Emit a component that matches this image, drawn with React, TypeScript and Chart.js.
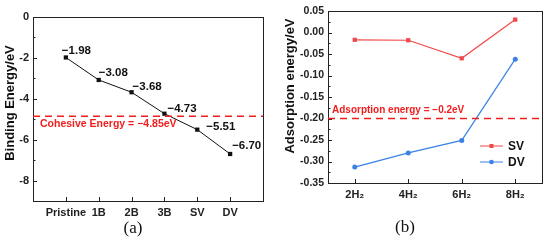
import React, { useEffect, useRef } from 'react';
import { Chart, registerables } from 'chart.js';
Chart.register(...registerables);

// ---------- data: panel (a) ----------
const bindingCategories = ['Pristine', '1B', '2B', '3B', 'SV', 'DV'];
const bindingValues = [-1.98, -3.08, -3.68, -4.73, -5.51, -6.7];
const bindingYTicks = [-8, -6, -4, -2, 0];
const bindingYMinor = [-9, -7, -5, -3, -1];
const cohesiveEnergy = -4.85;
const cohesiveLabel = 'Cohesive Energy = \u22124.85eV';

// ---------- data: panel (b) ----------
const h2Categories = ['2H\u2082', '4H\u2082', '6H\u2082', '8H\u2082'];
const svValues = [-0.017, -0.018, -0.06, 0.03];
const dvValues = [-0.313, -0.28, -0.251, -0.062];
const adsorptionYTicks = [-0.35, -0.3, -0.25, -0.2, -0.15, -0.1, -0.05, 0, 0.05];
const adsorptionYMinor = [-0.325, -0.275, -0.225, -0.175, -0.125, -0.075, -0.025, 0.025];
const adsorptionThreshold = -0.2;
const adsorptionLabel = 'Adsorption energy = \u22120.2eV';

const FONT = "'Liberation Sans', Arial, sans-serif";
const AXIS = '#222';
const RED_REF = '#f21d1d';
const SV_COLOR = '#f24848';
const DV_COLOR = '#3a82e6';

const fmtMinus = (v: number) => (v < 0 ? '\u2212' : '') + Math.abs(v).toFixed(2);

function makeDecorPlugin(cfg: any) {
  return {
    id: 'decor' + cfg.key,
    afterDraw(chart: any) {
      const ctx = chart.ctx;
      const { left, right, top, bottom } = chart.chartArea;
      const xs = chart.scales.x;
      const ys = chart.scales.y;
      ctx.save();
      ctx.strokeStyle = AXIS;
      ctx.lineWidth = 1;
      ctx.strokeRect(Math.round(left) + 0.5, Math.round(top) + 0.5, Math.round(right - left), Math.round(bottom - top));
      ctx.beginPath();
      xs.ticks.forEach((t: any, i: number) => {
        const x = Math.round(xs.getPixelForTick(i)) + 0.5;
        ctx.moveTo(x, bottom);
        ctx.lineTo(x, bottom - 4);
      });
      cfg.yMajor.forEach((v: number) => {
        const y = Math.round(ys.getPixelForValue(v)) + 0.5;
        ctx.moveTo(left, y);
        ctx.lineTo(left + 4, y);
      });
      cfg.yMinor.forEach((v: number) => {
        const y = Math.round(ys.getPixelForValue(v)) + 0.5;
        ctx.moveTo(left, y);
        ctx.lineTo(left + 2.5, y);
      });
      ctx.stroke();
      const ry = ys.getPixelForValue(cfg.refValue);
      ctx.strokeStyle = RED_REF;
      ctx.lineWidth = 1.5;
      ctx.setLineDash([7, 5]);
      ctx.beginPath();
      ctx.moveTo(left, ry);
      ctx.lineTo(right, ry);
      ctx.stroke();
      ctx.setLineDash([]);
      ctx.fillStyle = RED_REF;
      ctx.font = 'bold ' + cfg.refFont + 'px ' + FONT;
      ctx.textAlign = 'left';
      ctx.textBaseline = 'middle';
      ctx.fillText(cfg.refLabel, left + cfg.refDx, ry + cfg.refDy);
      if (cfg.pointLabels) {
        const meta = chart.getDatasetMeta(0);
        ctx.fillStyle = '#111';
        ctx.font = 'bold 11.5px ' + FONT;
        meta.data.forEach((p: any, i: number) => {
          const [dx, dy] = cfg.pointLabels[i];
          const v = chart.data.datasets[0].data[i].y;
          ctx.fillText(fmtMinus(v), p.x + dx, p.y + dy);
        });
      }
      if (cfg.legend) {
        const { x0, x1, y0, gap } = cfg.legend;
        chart.data.datasets.forEach((ds: any, i: number) => {
          const y = y0 + i * gap;
          ctx.strokeStyle = ds.borderColor;
          ctx.fillStyle = ds.borderColor;
          ctx.lineWidth = 1;
          ctx.beginPath();
          ctx.moveTo(x0, y);
          ctx.lineTo(x1, y);
          ctx.stroke();
          const mx = (x0 + x1) / 2;
          if (ds.pointStyle === 'rect') {
            ctx.fillRect(mx - 2, y - 2, 4, 4);
          } else {
            ctx.beginPath();
            ctx.arc(mx, y, 2.3, 0, Math.PI * 2);
            ctx.fill();
          }
          ctx.fillStyle = '#111';
          ctx.font = 'bold 12px ' + FONT;
          ctx.textAlign = 'left';
          ctx.fillText(ds.label, x1 + 5, y + 0.5);
        });
      }
      ctx.save();
      ctx.translate(cfg.titleX, cfg.titleY);
      ctx.rotate(-Math.PI / 2);
      ctx.fillStyle = '#111';
      ctx.font = 'bold 13px ' + FONT;
      ctx.textAlign = 'center';
      ctx.textBaseline = 'middle';
      ctx.fillText(cfg.title, 0, 0);
      ctx.restore();
      ctx.restore();
    },
  };
}

const tickFont = { family: FONT, size: 11, weight: 'bold' as const };

function PanelA() {
  const ref = useRef<HTMLCanvasElement>(null);
  useEffect(() => {
    const chart = new Chart(ref.current!, {
      type: 'line',
      data: {
        datasets: [
          {
            data: bindingValues.map((v, i) => ({ x: i + 1, y: v })),
            borderColor: '#111',
            backgroundColor: '#111',
            borderWidth: 1,
            pointStyle: 'rect',
            pointRadius: 3,
            pointBorderWidth: 0,
          },
        ],
      },
      options: {
        responsive: false,
        animation: false,
        layout: { padding: { top: 17, right: 12, left: 0, bottom: 0 } },
        plugins: { legend: { display: false }, tooltip: { enabled: false } },
        scales: {
          x: {
            type: 'linear',
            min: 0,
            max: 7,
            afterBuildTicks: (s: any) => {
              s.ticks = bindingCategories.map((_, i) => ({ value: i + 1 }));
            },
            afterFit: (s: any) => {
              s.height = 40;
            },
            ticks: {
              callback: (v: any) => bindingCategories[Number(v) - 1] ?? '',
              font: tickFont,
              color: AXIS,
              padding: 5,
              autoSkip: false,
              maxRotation: 0,
            },
            grid: { display: false, drawTicks: false },
            border: { display: false },
          },
          y: {
            min: -9,
            max: 0,
            afterBuildTicks: (s: any) => {
              s.ticks = bindingYTicks.map((v) => ({ value: v }));
            },
            afterFit: (s: any) => {
              s.width = 33;
            },
            ticks: {
              callback: (v: any) => String(v),
              font: tickFont,
              color: AXIS,
              padding: 4,
              autoSkip: false,
            },
            grid: { display: false, drawTicks: false },
            border: { display: false },
          },
        },
      } as any,
      plugins: [
        makeDecorPlugin({
          key: 'a',
          yMajor: bindingYTicks,
          yMinor: bindingYMinor,
          refValue: cohesiveEnergy,
          refLabel: cohesiveLabel,
          refFont: 10.5,
          refDx: 7,
          refDy: 8,
          pointLabels: [
            [-4, -7],
            [0, -7],
            [1, -5],
            [3, -5],
            [9, -3],
            [2, -8],
          ],
          title: 'Binding Energy/eV',
          titleX: 10,
          titleY: 103,
        }),
      ],
    });
    return () => chart.destroy();
  }, []);
  return <canvas ref={ref} width={275} height={241} style={{ position: 'absolute', left: 0, top: 0 }} />;
}

function PanelB() {
  const ref = useRef<HTMLCanvasElement>(null);
  useEffect(() => {
    const chart = new Chart(ref.current!, {
      type: 'line',
      data: {
        labels: h2Categories,
        datasets: [
          {
            label: 'SV',
            data: svValues,
            borderColor: SV_COLOR,
            backgroundColor: SV_COLOR,
            borderWidth: 1.2,
            pointStyle: 'rect',
            pointRadius: 3,
            pointBorderWidth: 0,
          },
          {
            label: 'DV',
            data: dvValues,
            borderColor: DV_COLOR,
            backgroundColor: DV_COLOR,
            borderWidth: 1.2,
            pointStyle: 'circle',
            pointRadius: 2.5,
            pointBorderWidth: 0,
          },
        ],
      },
      options: {
        responsive: false,
        animation: false,
        layout: { padding: { top: 11, right: 8, left: 0, bottom: 0 } },
        plugins: { legend: { display: false }, tooltip: { enabled: false } },
        scales: {
          x: {
            type: 'category',
            offset: true,
            afterFit: (s: any) => {
              s.height = 58;
            },
            ticks: { font: tickFont, color: AXIS, padding: 5, autoSkip: false, maxRotation: 0 },
            grid: { display: false, drawTicks: false, offset: true },
            border: { display: false },
          },
          y: {
            min: -0.35,
            max: 0.05,
            afterBuildTicks: (s: any) => {
              s.ticks = adsorptionYTicks.map((v) => ({ value: v }));
            },
            afterFit: (s: any) => {
              s.width = 53;
            },
            ticks: {
              callback: (v: any) => Number(v).toFixed(2),
              font: { family: FONT, size: 10.5, weight: 'bold' },
              color: AXIS,
              padding: 4,
              autoSkip: false,
            },
            grid: { display: false, drawTicks: false },
            border: { display: false },
          },
        },
      } as any,
      plugins: [
        makeDecorPlugin({
          key: 'b',
          yMajor: adsorptionYTicks,
          yMinor: adsorptionYMinor,
          refValue: adsorptionThreshold,
          refLabel: adsorptionLabel,
          refFont: 10,
          refDx: 4,
          refDy: -8,
          legend: { x0: 205, x1: 228, y0: 146, gap: 16 },
          title: 'Adsorption energy/eV',
          titleX: 15,
          titleY: 86,
        }),
      ],
    });
    return () => chart.destroy();
  }, []);
  return <canvas ref={ref} width={275} height={241} style={{ position: 'absolute', left: 275, top: 0 }} />;
}

const captionStyle: React.CSSProperties = {
  position: 'absolute',
  fontFamily: "'Liberation Serif', 'Times New Roman', serif",
  fontSize: 17,
  color: '#111',
  lineHeight: '20px',
  width: 40,
  textAlign: 'center',
};

export default function App() {
  return (
    <div style={{ position: 'absolute', left: 0, top: 0, width: 550, height: 241, background: '#fff' }}>
      <PanelA />
      <PanelB />
      <div style={{ ...captionStyle, left: 113, top: 218 }}>(a)</div>
      <div style={{ ...captionStyle, left: 385, top: 217 }}>(b)</div>
    </div>
  );
}
